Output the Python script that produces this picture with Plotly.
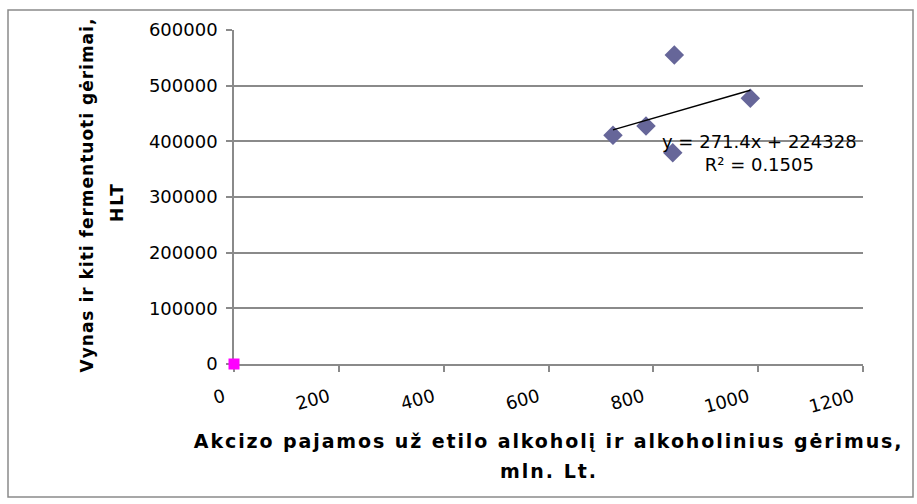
import plotly.graph_objects as go

# Excise revenue from ethyl alcohol and alcoholic beverages (mln. Lt)
akcizas = [723, 786, 840, 837, 985]
# Wine and other fermented beverages (HLT)
vynas = [411000, 427500, 555000, 379500, 477500]

# Second (empty) series sitting at the origin
kitas_x = [0]
kitas_y = [0]

# Linear trendline as stated on the chart
slope = 271.4
intercept = 224328
r2 = 0.1505

x_ticks = [0, 200, 400, 600, 800, 1000, 1200]
y_ticks = [0, 100000, 200000, 300000, 400000, 500000, 600000]

trend_x = [min(akcizas), max(akcizas)]
trend_y = [slope * v + intercept for v in trend_x]

GRID = "#8a8a8a"
FONT = "DejaVu Sans"

fig = go.Figure()
fig.add_trace(go.Scatter(
    x=akcizas, y=vynas, mode="markers",
    marker=dict(symbol="diamond", size=15, color="#666699",
                line=dict(width=0)),
    showlegend=False, cliponaxis=False,
))
fig.add_trace(go.Scatter(
    x=kitas_x, y=kitas_y, mode="markers",
    marker=dict(symbol="square", size=11, color="#ff00ff", line=dict(width=0)),
    showlegend=False, cliponaxis=False,
))
fig.add_trace(go.Scatter(
    x=trend_x, y=trend_y, mode="lines",
    line=dict(color="black", width=1.5),
    showlegend=False,
))

fig.update_layout(
    width=917, height=504,
    margin=dict(l=234, r=54, t=30, b=140),
    paper_bgcolor="white", plot_bgcolor="white",
    font=dict(family=FONT, size=18, color="black"),
    xaxis=dict(
        range=[0, 1200], tickvals=x_ticks, ticktext=[str(v) for v in x_ticks],
        tickangle=-15, showgrid=False, zeroline=False,
        showline=True, linecolor=GRID, linewidth=1.5, layer="below traces",
        ticks="outside", ticklen=6, tickcolor=GRID, tickwidth=1.5,
        ticklabelstandoff=8, ticklabelshift=-10,
        tickfont=dict(family=FONT, size=18),
    ),
    yaxis=dict(
        range=[0, 600000], tickvals=y_ticks, ticktext=[str(v) for v in y_ticks],
        showgrid=True, gridcolor=GRID, gridwidth=1.5, zeroline=False,
        showline=True, linecolor=GRID, linewidth=1.5, layer="below traces",
        ticks="outside", ticklen=6, tickcolor=GRID, tickwidth=1.5,
        ticklabelstandoff=5,
        tickfont=dict(family=FONT, size=18),
    ),
)

# Trendline equation and R²
fig.add_annotation(
    x=1002, y=379000, xref="x", yref="y", showarrow=False,
    text=f"y = {slope}x + {intercept}<br>R² = {r2}",
    font=dict(family=FONT, size=18), align="center",
)

# Axis titles (two lines each, wide line spacing)
fig.add_annotation(
    x=0.5, y=-0.232, xref="paper", yref="paper", showarrow=False,
    text="<b>Akcizo pajamos už etilo alkoholį ir alkoholinius gėrimus,</b>",
    font=dict(family=FONT, size=19), xanchor="center", yanchor="middle",
)
fig.add_annotation(
    x=0.5, y=-0.32, xref="paper", yref="paper", showarrow=False,
    text="<b>mln. Lt.</b>",
    font=dict(family=FONT, size=19), xanchor="center", yanchor="middle",
)
fig.add_annotation(
    x=-0.233, y=0.506, xref="paper", yref="paper", showarrow=False,
    text="<b>Vynas ir kiti fermentuoti gėrimai,</b>", textangle=-90,
    font=dict(family=FONT, size=17), xanchor="center", yanchor="middle",
)
fig.add_annotation(
    x=-0.186, y=0.485, xref="paper", yref="paper", showarrow=False,
    text="<b>HLT</b>", textangle=-90,
    font=dict(family=FONT, size=17), xanchor="center", yanchor="middle",
)

# Chart-area frame
fig.add_shape(
    type="rect", xref="paper", yref="paper",
    x0=(8 - 234) / 629, x1=(913 - 234) / 629,
    y0=(364 - 497) / 334, y1=(364 - 10) / 334,
    line=dict(color=GRID, width=1.5), fillcolor="rgba(0,0,0,0)", layer="below",
)

# Letter-spaced axis titles (annotation indices 1-4)
spacing_js = """
var gd = document.getElementById('{plot_id}');
var spacing = {"1": "1.9px", "2": "2px", "3": "1px", "4": "2px"};
Object.keys(spacing).forEach(function (i) {
  gd.querySelectorAll('.annotation[data-index="' + i + '"] .annotation-text')
    .forEach(function (t) { t.style.letterSpacing = spacing[i]; });
});
"""

fig.write_html("out.html", post_script=spacing_js)
